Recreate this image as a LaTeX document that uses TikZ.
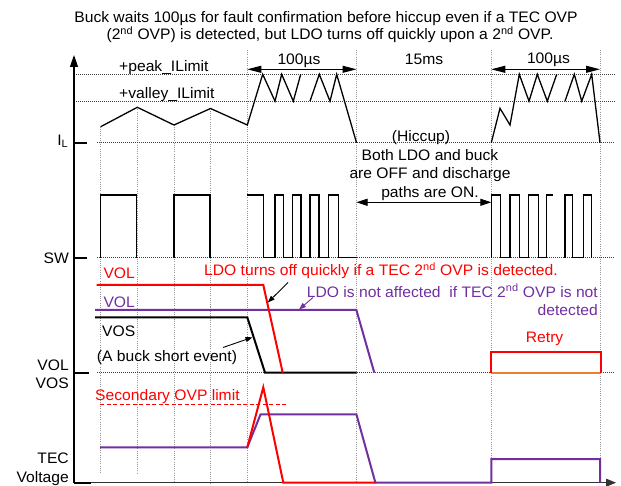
\documentclass[tikz,border=0pt]{standalone}
\usepackage{fontspec}
\setmainfont{Liberation Sans}
\usetikzlibrary{arrows.meta}
\definecolor{redc}{RGB}{255,0,0}
\definecolor{purc}{RGB}{112,48,160}
\definecolor{orac}{RGB}{237,125,49}
\definecolor{gridc}{RGB}{150,150,150}
\begin{document}
\begin{tikzpicture}[x=1pt,y=-1pt,
 txt/.style={font=\fontsize{15.2}{17}\selectfont, inner sep=0pt, text height=10.9pt, text depth=0pt, xscale=1.03},
 gridl/.style={draw=gridc, line width=0.6pt, dash pattern=on 1pt off 1.2pt},
 hline/.style={draw=black!75, line width=0.8pt, dash pattern=on 1pt off 1pt},
 wave/.style={draw=black, line width=1.3pt, line join=miter},
 sig/.style={line width=2pt, line join=miter},
 tickm/.style={draw=black, line width=2.2pt},
 ptr/.style={draw=black, line width=0.9pt, -{Triangle[length=7pt,width=5pt]}},
 dimarrow/.style={draw=black, line width=1pt, {Triangle[length=14pt,width=7pt]}-{Triangle[length=14pt,width=7pt]}},
 offarrow/.style={draw=black, line width=1pt, {Triangle[length=11pt,width=7pt]}-{Triangle[length=11pt,width=7pt]}},
]
\fill[white] (0,0) rectangle (621,486);
\useasboundingbox (0,0) rectangle (621,486);

% vertical grid lines
\draw[gridl] (100.7,126.7) -- (100.7,474);
\draw[gridl] (137.3,107.3) -- (137.3,474);
\draw[gridl] (174,125) -- (174,482.7);
\draw[gridl] (210.5,108.5) -- (210.5,482.7);
\draw[gridl] (247.3,50) -- (247.3,482.7);
\draw[gridl] (356.5,50) -- (356.5,482.7);
\draw[gridl] (491.3,50) -- (491.3,482.7);
\draw[gridl] (600,50) -- (600,482.7);

% horizontal dotted reference lines
\draw[hline] (74,74.3) -- (615,74.3);
\draw[hline] (74,101.2) -- (615,101.2);
\draw[hline] (97,142.7) -- (615,142.7);
\draw[hline] (97,257.7) -- (615,257.7);
\draw[hline] (97,372.7) -- (615,372.7);

% axes
\coordinate (axB) at (74,482.7);
\coordinate (axT) at (74,55);
\coordinate (axR) at (616,482.7);
\draw[line width=1.3pt, -{Triangle[length=12pt,width=8pt]}] (axB) -- (axT);
\draw[black!80, line width=0.9pt, -{Triangle[length=10pt,width=8pt]}] (axB) -- (axR);
\draw[tickm] (74,142.7) -- (87,142.7);
\draw[tickm] (74,257.7) -- (87,257.7);
\draw[tickm] (74,372.7) -- (89,372.7);
\draw[tickm] (74,482.7) -- (91,482.7);

% IL waveform
\draw[wave] (100.7,126.7) -- (137.3,107.3) -- (174,125) -- (210.5,108.5) -- (247.3,125)
  -- (262.7,74.3) -- (275,101.2) -- (281.7,74.3) -- (293.3,101.2) -- (300.7,74.3);
\draw[wave] (310,101.2) -- (319.3,74.3) -- (330,101.2) -- (336.7,74.3) -- (356.5,142.7);
\draw[wave] (491.3,142.7) -- (500,108.3) -- (510,125) -- (519.3,74.3) -- (529,101.2)
  -- (537.3,74.3) -- (547.3,101.2) -- (556.7,74.3);
\draw[wave] (565,101.2) -- (574.3,74.3) -- (581.7,101.2) -- (591.7,74.3) -- (600,142.7);

% SW waveform
\draw[wave] (100.7,257.7) -- (100.7,195) -- (136.7,195) -- (136.7,257.7);
\draw[wave] (174,257.7) -- (174,195) -- (210,195) -- (210,257.7);
\draw[wave] (247.3,195) -- (263.3,195) -- (263.3,257.7) -- (275,257.7) -- (275,195)
  -- (283.3,195) -- (283.3,257.7) -- (292.3,257.7) -- (292.3,195) -- (301,195)
  -- (301,257.7) -- (310,257.7) -- (310,195) -- (319,195) -- (319,257.7)
  -- (328.3,257.7) -- (328.3,195) -- (338.3,195) -- (338.3,257.7) -- (356.5,257.7);
\draw[wave] (491.3,257.7) -- (491.3,195) -- (500.7,195) -- (500.7,257.7) -- (510,257.7)
  -- (510,195) -- (519.3,195) -- (519.3,257.7) -- (528.3,257.7) -- (528.3,195)
  -- (538.3,195) -- (538.3,257.7) -- (546.7,257.7) -- (546.7,195) -- (552.7,195);
\draw[wave] (565,257.7) -- (565,195) -- (572.7,195) -- (572.7,257.7) -- (583.3,257.7)
  -- (583.3,195) -- (591.7,195) -- (591.7,257.7);

% time arrows
\coordinate (d1a) at (247.3,69.3);
\coordinate (d1b) at (356.5,69.3);
\coordinate (d2a) at (491.3,69.3);
\coordinate (d2b) at (600,69.3);
\draw[dimarrow] (d1a) -- (d1b);
\draw[dimarrow] (d2a) -- (d2b);
\coordinate (offa) at (356.5,202.3);
\coordinate (offb) at (491.3,202.3);
\draw[offarrow] (offa) -- (offb);

% VOL / VOS signals
\draw[sig, black] (95,317.3) -- (247.3,317.3) -- (265,372.7) -- (356.5,372.7);
\draw[sig, purc] (95,310) -- (356.4,310) -- (374.3,372.7);
\draw[sig, redc] (96.7,285) -- (263.3,285) -- (282.7,372.7);
\draw[sig, orac] (491.3,372.7) -- (600.8,372.7);
\draw[sig, redc] (491.3,372.7) -- (491.3,351.7) -- (600.8,351.7) -- (600.8,372.7);

% TEC voltage
\draw[redc, line width=1pt, dash pattern=on 4pt off 2.5pt] (100,404) -- (288,404);
\draw[sig, purc] (100,447.3) -- (247.3,447.3) -- (260.6,414.3) -- (356.4,414.3) -- (375.4,482.7)
  -- (491.3,482.7) -- (491.3,459) -- (600,459) -- (600,482.7);
\draw[sig, redc] (247.3,447.3) -- (263.3,387.3) -- (283.3,482.7) -- (375.4,482.7);

% pointer arrows
\coordinate (p1a) at (223,347.5);
\coordinate (p1b) at (252.5,337.3);
\coordinate (p2a) at (288,282.5);
\coordinate (p2b) at (267.8,302.5);
\coordinate (p3a) at (313,297.5);
\coordinate (p3b) at (299,309.5);
\draw[ptr] (p1a) -- (p1b);
\draw[ptr] (p2a) -- (p2b);
\draw[purc, line width=0.9pt, -{Triangle[length=7pt,width=5pt]}] (p3a) -- (p3b);

% texts
\node[txt] (t1) at (326,17.3) {Buck waits 100µs for fault confirmation before hiccup even if a TEC OVP};
\node[txt] (t2) at (330,33.8) {(2\textsuperscript{nd} OVP) is detected, but LDO turns off quickly upon a 2\textsuperscript{nd} OVP.};
\node[txt, anchor=west] (pk) at (119,66.5) {+peak\_ILimit};
\node[txt, anchor=west] (vl) at (119,93) {+valley\_ILimit};
\node[txt] (us1) at (299,59.5) {100µs};
\node[txt] (ms) at (424,59.5) {15ms};
\node[txt] (us2) at (548.5,58.5) {100µs};
\node[txt] (hic) at (421,136.5) {(Hiccup)};
\node[txt] (b1) at (430,155) {Both LDO and buck};
\node[txt] (b2) at (430,173.3) {are OFF and discharge};
\node[txt] (b3) at (430,191.7) {paths are ON.};
\node[txt, anchor=west, text=redc] (ldo1) at (204,270.5) {LDO turns off quickly if a TEC 2\textsuperscript{nd} OVP is detected.};
\node[txt, anchor=east, text=purc] (ldo2) at (598,291.7) {LDO is not affected\ \ if TEC 2\textsuperscript{nd} OVP is not};
\node[txt, anchor=east, text=purc] (ldo3) at (598,310) {detected};
\node[txt, text=redc] (rt) at (544.6,337.3) {Retry};
\node[txt, anchor=west, text=redc] (vr) at (103.3,273.5) {VOL};
\node[txt, anchor=west, text=purc] (vp) at (103.3,302) {VOL};
\node[txt, anchor=west] (vs) at (102,331.5) {VOS};
\node[txt, anchor=west] (bs) at (96.7,356) {(A buck short event)};
\node[txt, anchor=west, text=redc] (sec) at (95,395) {Secondary OVP limit};
\node[txt, anchor=east] (lil) at (68.5,140) {I\textsubscript{L}};
\node[txt, anchor=east] (lsw) at (69,258) {SW};
\node[txt, anchor=east] (lvol) at (69,365) {VOL};
\node[txt, anchor=east] (lvos) at (69,383) {VOS};
\node[txt, anchor=east] (ltec) at (69,458) {TEC};
\node[txt, anchor=east] (lvolt) at (69,476.7) {Voltage};
\end{tikzpicture}
\end{document}
